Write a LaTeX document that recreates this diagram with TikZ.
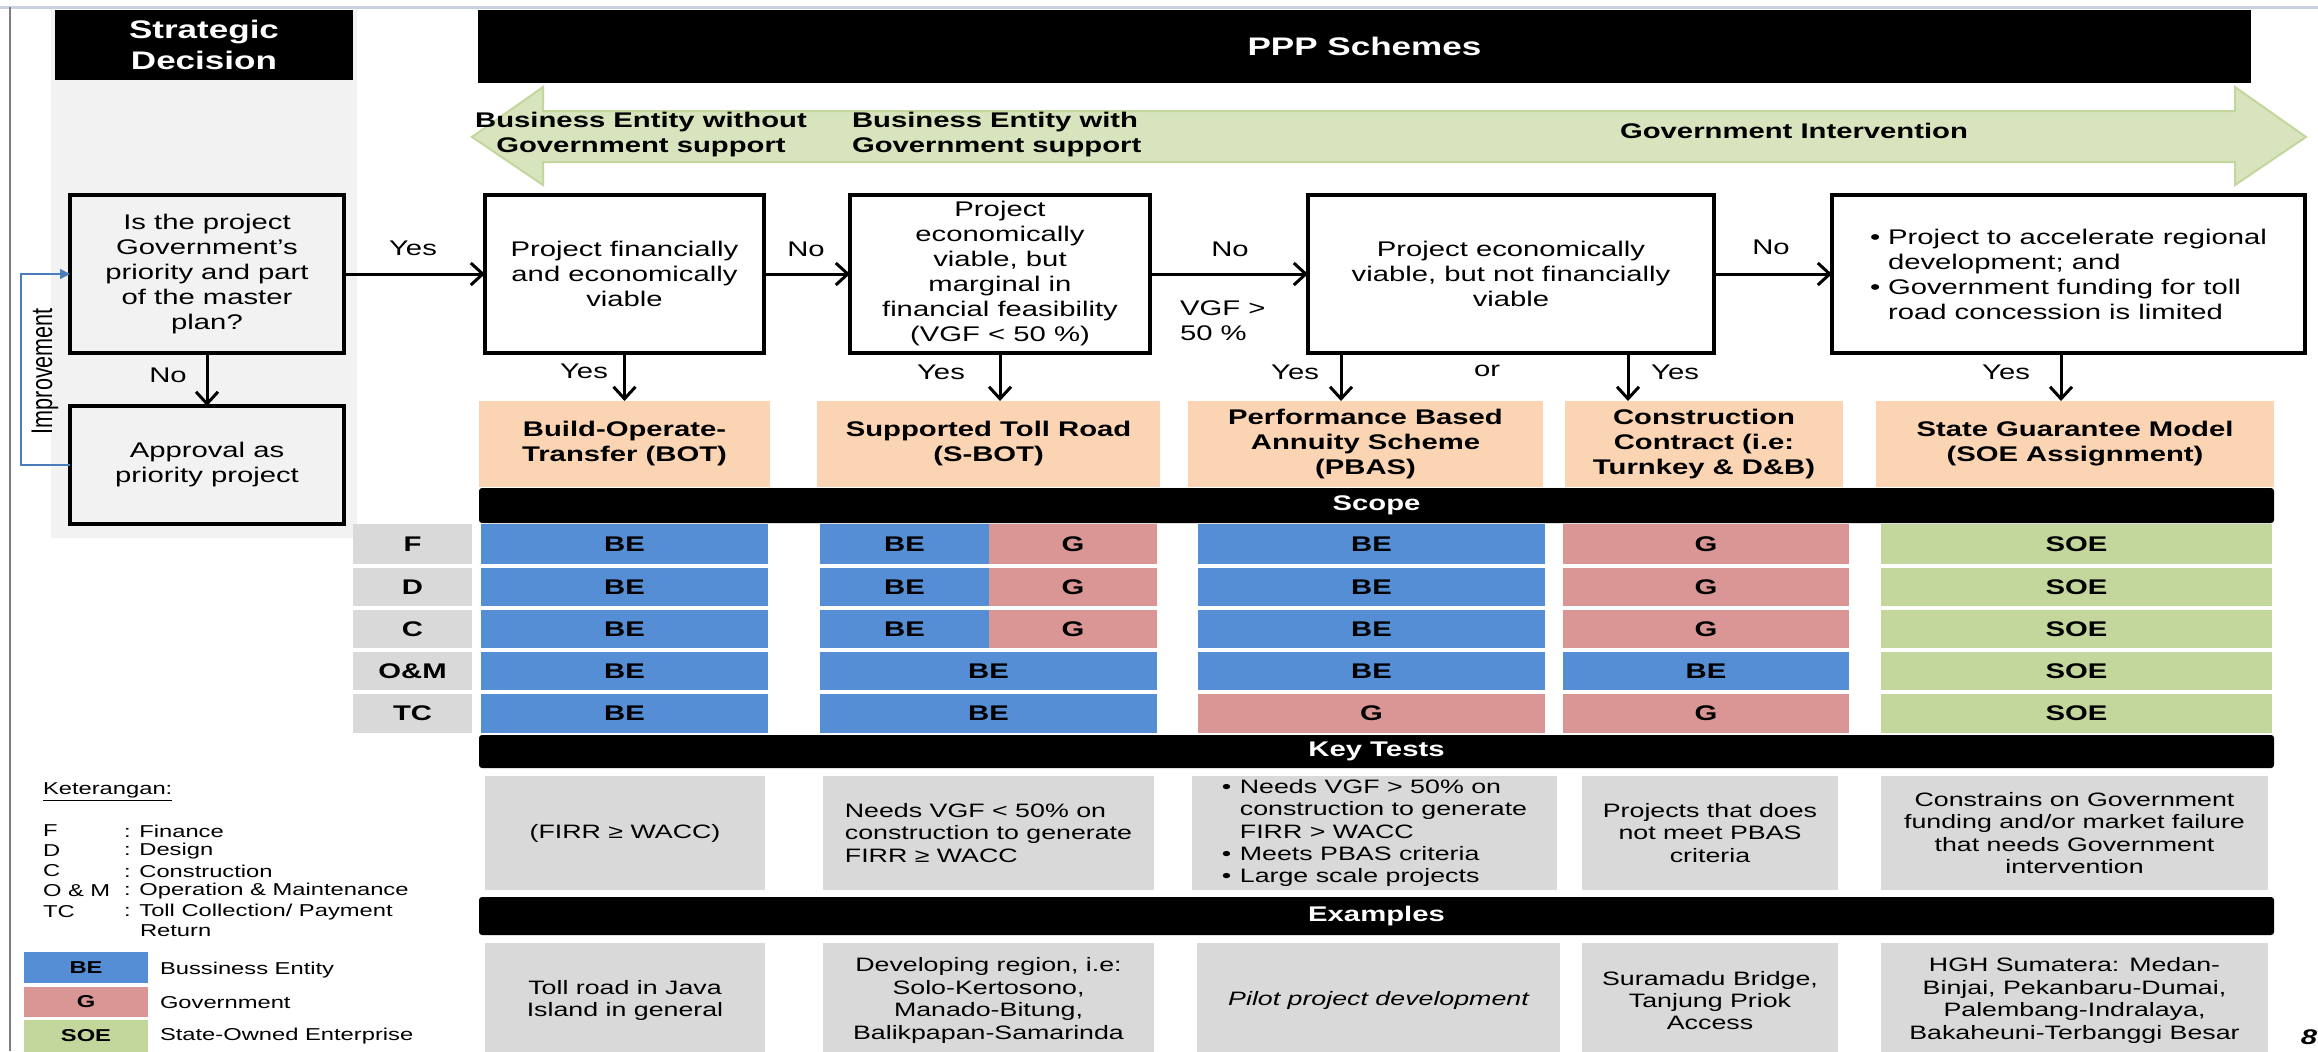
\documentclass[tikz,border=0pt]{standalone}
\usepackage{graphicx}
\usepackage{fontspec}
\setmainfont{Liberation Sans}[FakeStretch=1.38]
\newfontfamily\plainfont{Liberation Sans}
\usetikzlibrary{arrows.meta}
\definecolor{colbg}{HTML}{F2F2F2}
\definecolor{lblgray}{HTML}{D9D9D9}
\definecolor{peach}{HTML}{FBD4B4}
\definecolor{beblue}{HTML}{558ED5}
\definecolor{gpink}{HTML}{D99694}
\definecolor{soegreen}{HTML}{C3D69B}
\definecolor{arrfill}{HTML}{D7E4BD}
\definecolor{arrline}{HTML}{C3D69B}
\definecolor{imprblue}{HTML}{4A7EBB}
\definecolor{framegray}{HTML}{7F7F7F}
\definecolor{topline}{HTML}{C9D1E3}
\newcommand\fsHead{\fontsize{12.7}{15.5}\selectfont}
\newcommand\fsBox{\fontsize{10.6}{12.5}\selectfont}
\newcommand\fsSmall{\fontsize{9.7}{11.2}\selectfont}
\newcommand\fsLeg{\fontsize{8.6}{10}\selectfont}
\newcommand\bul{\makebox[9pt][l]{\textbullet}}
\newcommand\ind{\hspace*{9pt}}
\newcommand\rbox[7]{%
  \node[#6, minimum width={(#4-#2)*0.5pt}, minimum height={(#5-#3)*0.5pt}] (#1) at ({(#2+#4)/2},{(#3+#5)/2}) {#7};}
\begin{document}
\begin{tikzpicture}[x=0.5pt,y=-0.5pt,
  every node/.style={inner sep=0pt,outer sep=0pt},
  dbox/.style={draw=black,line width=2pt,fill=white,align=center,font=\fsBox},
  qbox/.style={dbox,fill=colbg},
  obox/.style={fill=peach,align=center,font=\fsBox\bfseries},
  hbar/.style={fill=black,text=white,font=\fsBox\bfseries,rounded corners=1.5pt},
  hhead/.style={fill=black,text=white,font=\fsHead\bfseries,align=center},
  lbl/.style={fill=lblgray,font=\fsBox\bfseries},
  becell/.style={fill=beblue,font=\fsBox\bfseries},
  gcell/.style={fill=gpink,font=\fsBox\bfseries},
  soecell/.style={fill=soegreen,font=\fsBox\bfseries},
  tbox/.style={fill=lblgray,align=center,font=\fsSmall},
  elabel/.style={font=\fsBox},
  arr/.style={line width=1.5pt,-{Straight Barb[length=6pt,width=11pt]}},
  impr/.style={draw=imprblue,line width=0.8pt,-{Triangle[length=5pt,width=5pt]}},
  legt/.style={font=\fsLeg,anchor=west},
  legsw/.style={font=\fsLeg\bfseries},
]
\useasboundingbox (0,0) rectangle (2318,1051);
% frame
\draw[topline,line width=1.5pt] (0,7) -- (2318,7);
\draw[framegray,line width=1pt] (10,7) -- (10,1051);
% strategic column
\fill[colbg] (51,10) rectangle (357,538);
\rbox{sdh}{55}{10}{353}{80}{hhead}{Strategic\\Decision}
\rbox{ppph}{478}{10}{2251}{83}{hhead}{PPP Schemes}
% green double arrow
\filldraw[fill=arrfill,draw=arrline,line width=1pt] (472,137) -- (543,87) -- (543,111) -- (2235,111) -- (2235,87) -- (2306,137) -- (2235,185) -- (2235,162) -- (543,162) -- (543,185) -- cycle;
\node[font=\fsBox\bfseries,align=center] (bew) at (641,135) {Business Entity without\\Government support};
\node[font=\fsBox\bfseries,align=left,anchor=west] (bewith) at (852,135) {Business Entity with\\Government support};
\node[font=\fsBox\bfseries] (gi) at (1794,131) {Government Intervention};
% decision boxes
\rbox{q}{70}{195}{344}{353}{qbox}{Is the project\\Government’s\\priority and part\\of the master\\plan?}
\rbox{b2}{485}{195}{764}{353}{dbox}{Project financially\\and economically\\viable}
\rbox{b3}{850}{195}{1150}{353}{dbox}{Project\\economically\\viable, but\\marginal in\\financial feasibility\\(VGF < 50 \%)}
\rbox{b4}{1308}{195}{1714}{353}{dbox}{Project economically\\viable, but not financially\\viable}
\rbox{b5}{1832}{195}{2305}{353}{dbox,align=left}{\bul Project to accelerate regional\\\ind development; and\\\bul Government funding for toll\\\ind road concession is limited}
\rbox{ap}{70}{406}{344}{524}{qbox}{Approval as\\priority project}
% improvement label
\node[rotate=90,font=\plainfont\fontsize{10.8}{12}\selectfont] (imp) at (45,371) {\scalebox{1}[1.38]{Improvement}};
% labels
\node[elabel] (lyes1) at (413,248) {Yes};
\node[elabel] (lno1) at (168,375) {No};
\node[elabel] (lno2) at (806,249) {No};
\node[elabel] (lno3) at (1230,249) {No};
\node[elabel] (lno4) at (1771,247) {No};
\node[elabel,anchor=west,align=left] (lvgf) at (1180,321) {VGF >\\50 \%};
\node[elabel] (ly2) at (584,371) {Yes};
\node[elabel] (ly3) at (941,372) {Yes};
\node[elabel] (ly4a) at (1295,372) {Yes};
\node[elabel] (lor) at (1487,371) {or};
\node[elabel] (ly4b) at (1675,372) {Yes};
\node[elabel] (ly5) at (2006,372) {Yes};
% scheme boxes
\rbox{bot}{479}{401}{770}{487}{obox}{Build-Operate-\\Transfer (BOT)}
\rbox{sbot}{817}{401}{1160}{487}{obox}{Supported Toll Road\\(S-BOT)}
\rbox{pbas}{1188}{401}{1543}{487}{obox}{Performance Based\\Annuity Scheme\\(PBAS)}
\rbox{cc}{1565}{401}{1843}{487}{obox}{Construction\\Contract (i.e:\\Turnkey \& D\&B)}
\rbox{sgm}{1876}{401}{2274}{487}{obox}{State Guarantee Model\\(SOE Assignment)}
% scope
\rbox{scope}{479}{488}{2274}{523}{hbar}{Scope}
\rbox{lF}{353}{524}{472}{564}{lbl}{F}
\rbox{cF1}{481}{524}{768}{564}{becell}{BE}
\rbox{cF2a}{820}{524}{989}{564}{becell}{BE}
\rbox{cF2b}{989}{524}{1157}{564}{gcell}{G}
\rbox{cF3}{1198}{524}{1545}{564}{becell}{BE}
\rbox{cF4}{1563}{524}{1849}{564}{gcell}{G}
\rbox{cF5}{1881}{524}{2272}{564}{soecell}{SOE}
\rbox{lD}{353}{568}{472}{606}{lbl}{D}
\rbox{cD1}{481}{568}{768}{606}{becell}{BE}
\rbox{cD2a}{820}{568}{989}{606}{becell}{BE}
\rbox{cD2b}{989}{568}{1157}{606}{gcell}{G}
\rbox{cD3}{1198}{568}{1545}{606}{becell}{BE}
\rbox{cD4}{1563}{568}{1849}{606}{gcell}{G}
\rbox{cD5}{1881}{568}{2272}{606}{soecell}{SOE}
\rbox{lC}{353}{610}{472}{648}{lbl}{C}
\rbox{cC1}{481}{610}{768}{648}{becell}{BE}
\rbox{cC2a}{820}{610}{989}{648}{becell}{BE}
\rbox{cC2b}{989}{610}{1157}{648}{gcell}{G}
\rbox{cC3}{1198}{610}{1545}{648}{becell}{BE}
\rbox{cC4}{1563}{610}{1849}{648}{gcell}{G}
\rbox{cC5}{1881}{610}{2272}{648}{soecell}{SOE}
\rbox{lOM}{353}{652}{472}{690}{lbl}{O\&M}
\rbox{cOM1}{481}{652}{768}{690}{becell}{BE}
\rbox{cOM2}{820}{652}{1157}{690}{becell}{BE}
\rbox{cOM3}{1198}{652}{1545}{690}{becell}{BE}
\rbox{cOM4}{1563}{652}{1849}{690}{becell}{BE}
\rbox{cOM5}{1881}{652}{2272}{690}{soecell}{SOE}
\rbox{lTC}{353}{694}{472}{733}{lbl}{TC}
\rbox{cTC1}{481}{694}{768}{733}{becell}{BE}
\rbox{cTC2}{820}{694}{1157}{733}{becell}{BE}
\rbox{cTC3}{1198}{694}{1545}{733}{gcell}{G}
\rbox{cTC4}{1563}{694}{1849}{733}{gcell}{G}
\rbox{cTC5}{1881}{694}{2272}{733}{soecell}{SOE}
% key tests
\rbox{kt}{479}{735}{2274}{768}{hbar}{Key Tests}
\rbox{k1}{485}{776}{765}{890}{tbox}{(FIRR ≥ WACC)}
\rbox{k2}{823}{776}{1154}{890}{tbox,align=left}{Needs VGF < 50\% on\\construction to generate\\FIRR ≥ WACC}
\rbox{k3}{1192}{776}{1557}{890}{tbox,align=left}{\bul Needs VGF > 50\% on\\\ind construction to generate\\\ind FIRR > WACC\\\bul Meets PBAS criteria\\\bul Large scale projects}
\rbox{k4}{1582}{776}{1838}{890}{tbox}{Projects that does\\not meet PBAS\\criteria}
\rbox{k5}{1881}{776}{2268}{890}{tbox}{Constrains on Government\\funding and/or market failure\\that needs Government\\intervention}
% examples
\rbox{ex}{479}{897}{2274}{935}{hbar}{Examples}
\rbox{e1}{485}{943}{765}{1058}{tbox}{Toll road in Java\\Island in general}
\rbox{e2}{823}{943}{1154}{1058}{tbox}{Developing region, i.e:\\Solo-Kertosono,\\Manado-Bitung,\\Balikpapan-Samarinda}
\rbox{e3}{1197}{943}{1560}{1058}{tbox,font=\fsSmall\itshape}{Pilot project development}
\rbox{e4}{1582}{943}{1838}{1058}{tbox}{Suramadu Bridge,\\Tanjung Priok\\Access}
\rbox{e5}{1881}{943}{2268}{1058}{tbox}{HGH Sumatera: Medan-\\Binjai, Pekanbaru-Dumai,\\Palembang-Indralaya,\\Bakaheuni-Terbanggi Besar}
% legend
\node[legt] (ket) at (43,792) {\underline{Keterangan:}};
\node[legt] (lgF) at (43,831) {F};
\node[legt] (lgFt) at (124,831) {: Finance};
\node[legt] (lgD) at (43,851) {D};
\node[legt] (lgDt) at (124,851) {: Design};
\node[legt] (lgC) at (43,871) {C};
\node[legt] (lgCt) at (124,871) {: Construction};
\node[legt] (lgO) at (43,891) {O \& M};
\node[legt] (lgOt) at (124,891) {: Operation \& Maintenance};
\node[legt] (lgT) at (43,912) {TC};
\node[legt] (lgTt) at (124,912) {: Toll Collection/ Payment};
\node[legt] (lgTr) at (140,931) {Return};
\rbox{lbe}{24}{952}{148}{983}{legsw,fill=beblue}{BE}
\rbox{lg}{24}{987}{148}{1017}{legsw,fill=gpink}{G}
\rbox{lsoe}{24}{1020}{148}{1052}{legsw,fill=soegreen}{SOE}
\node[legt] (lbet) at (160,970) {Bussiness Entity};
\node[legt] (lgt) at (160,1003) {Government};
\node[legt] (lsoet) at (160,1036) {State-Owned Enterprise};
\node[font=\fsBox\bfseries\itshape] (pg) at (2309,1037) {8};
% connectors
\coordinate (xa) at (1341,0);
\coordinate (xb) at (1628,0);
\coordinate (xc) at (2061,0);
\draw[arr] (q.east) -- (b2.west);
\draw[arr] (b2.east) -- (b3.west);
\draw[arr] (b3.east) -- (b4.west);
\draw[arr] (b4.east) -- (b5.west);
\draw[arr] (q.south) -- (ap.north);
\draw[arr] (b2.south) -- (bot.north);
\draw[arr] (b3.south) -- (b3.south |- sbot.north);
\draw[arr] (xa |- b4.south) -- (xa |- pbas.north);
\draw[arr] (xb |- b4.south) -- (xb |- cc.north);
\draw[arr] (xc |- b5.south) -- (xc |- sgm.north);
\draw[impr] (ap.west) -- ++(-49,0) |- (q.west);
\end{tikzpicture}
\end{document}
